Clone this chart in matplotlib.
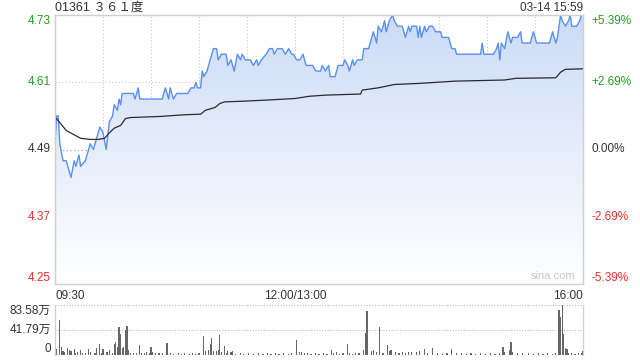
import matplotlib
matplotlib.use('Agg')
import matplotlib.pyplot as plt
import numpy as np
from matplotlib.colors import LinearSegmentedColormap

plt.rcParams['font.family'] = ['Liberation Sans', 'Noto Sans CJK SC', 'DejaVu Sans']

# --- data (minute index 0 = 09:30, 150 = 12:00/13:00, 330 = 16:00) ---
title = '01361 ３６１度'
stamp = '03-14 15:59'
prev_close = 4.49

price_t = [0, 1, 2, 3, 5, 7, 10, 12, 13, 15, 16, 19, 20, 22, 24, 26, 28, 30, 32, 34,
           36, 37, 39, 40, 41, 42, 49, 50, 52, 53, 67, 69, 71, 72, 74, 76, 83, 85, 87, 88,
           89, 91, 92, 93, 95, 97, 99, 101, 102, 104, 107, 108, 110, 112, 114, 116, 117, 119, 122, 124,
           126, 127, 129, 132, 134, 136, 137, 139, 142, 144, 146, 148, 149, 151, 153, 155, 157, 159, 161, 163,
           166, 167, 169, 171, 172, 175, 177, 180, 181, 183, 184, 186, 187, 189, 192, 193, 196, 197, 199, 201,
           202, 204, 206, 207, 209, 211, 212, 214, 217, 218, 219, 221, 222, 223, 226, 227, 228, 229, 231, 232,
           234, 236, 238, 241, 242, 246, 248, 250, 251, 266, 267, 268, 274, 276, 277, 278, 279, 281, 283, 285,
           286, 289, 291, 292, 297, 299, 301, 309, 311, 313, 314, 316, 317, 319, 321, 322, 323, 326, 328, 329,
           330]
price_v = [4.50, 4.55, 4.55, 4.50, 4.47, 4.47, 4.44, 4.47, 4.46, 4.48, 4.46, 4.47, 4.48, 4.50, 4.49, 4.51, 4.53, 4.52, 4.49, 4.54,
           4.55, 4.57, 4.56, 4.58, 4.57, 4.59, 4.59, 4.58, 4.60, 4.58, 4.58, 4.60, 4.58, 4.60, 4.58, 4.59, 4.59, 4.60, 4.60, 4.61,
           4.60, 4.60, 4.63, 4.62, 4.63, 4.65, 4.67, 4.67, 4.65, 4.66, 4.66, 4.64, 4.65, 4.63, 4.66, 4.65, 4.66, 4.65, 4.65, 4.64,
           4.65, 4.64, 4.65, 4.66, 4.67, 4.67, 4.66, 4.67, 4.67, 4.66, 4.67, 4.66, 4.66, 4.65, 4.65, 4.66, 4.64, 4.64, 4.64, 4.63,
           4.63, 4.64, 4.63, 4.64, 4.62, 4.62, 4.64, 4.64, 4.65, 4.64, 4.63, 4.65, 4.64, 4.65, 4.65, 4.67, 4.67, 4.68, 4.70, 4.68,
           4.71, 4.70, 4.72, 4.70, 4.72, 4.73, 4.72, 4.71, 4.71, 4.70, 4.69, 4.71, 4.70, 4.71, 4.71, 4.69, 4.71, 4.69, 4.71, 4.70,
           4.71, 4.71, 4.70, 4.70, 4.69, 4.69, 4.67, 4.67, 4.66, 4.66, 4.68, 4.66, 4.66, 4.67, 4.68, 4.65, 4.68, 4.67, 4.70, 4.68,
           4.69, 4.69, 4.70, 4.68, 4.68, 4.70, 4.68, 4.68, 4.70, 4.68, 4.69, 4.73, 4.72, 4.71, 4.72, 4.73, 4.71, 4.71, 4.72, 4.73,
           4.73]

avg_t = [1, 7, 16, 22, 27, 31, 34, 37, 41, 44, 47, 66, 81, 91, 94, 100, 103, 106, 116, 131,
         150, 159, 169, 191, 192, 202, 212, 228, 250, 281, 288, 313, 316, 319, 330]
avg_v = [4.545, 4.524, 4.510, 4.508, 4.508, 4.510, 4.520, 4.528, 4.533, 4.545, 4.547, 4.549, 4.552, 4.553, 4.560, 4.565, 4.572, 4.575, 4.576, 4.578,
         4.581, 4.585, 4.587, 4.589, 4.596, 4.600, 4.606, 4.608, 4.612, 4.614, 4.617, 4.618, 4.628, 4.633, 4.634]

# volume in 万 shares
vol_t = [0, 1, 3, 4, 5, 6, 8, 9, 10, 12, 13, 14, 16, 17, 19, 21, 22, 25, 26, 28,
         29, 30, 32, 33, 34, 36, 37, 38, 39, 40, 41, 42, 43, 44, 45, 46, 47, 49, 51, 53,
         54, 56, 57, 59, 60, 61, 63, 65, 67, 70, 72, 74, 77, 79, 81, 84, 86, 88, 90, 93,
         94, 96, 97, 98, 99, 101, 102, 103, 104, 106, 107, 108, 110, 111, 113, 116, 118, 121, 124, 127,
         130, 133, 135, 138, 140, 143, 146, 148, 151, 153, 154, 156, 158, 160, 163, 165, 168, 170, 173, 174,
         176, 178, 180, 183, 184, 186, 188, 190, 193, 194, 195, 198, 199, 201, 203, 205, 208, 209, 210, 213,
         215, 217, 219, 221, 223, 226, 228, 231, 233, 236, 239, 242, 245, 248, 251, 254, 257, 260, 263, 266,
         269, 272, 275, 278, 280, 281, 284, 285, 286, 289, 292, 296, 299, 302, 305, 308, 311, 313, 315, 316,
         317, 318, 319, 320, 321, 323, 325, 327, 329, 330]
vol_v = [22, 10, 58, 14, 7, 5, 12, 8, 6, 10, 4, 5, 8, 3, 3, 10, 5, 4, 11, 19,
         3, 10, 5, 5, 8, 3, 18, 22, 14, 47, 35, 11, 14, 42, 48, 9, 3, 3, 3, 17,
         4, 3, 5, 3, 13, 5, 4, 4, 3, 20, 3, 2, 3, 2, 3, 2, 3, 2, 3, 31,
         7, 8, 18, 29, 7, 6, 8, 33, 5, 15, 4, 6, 5, 6, 2, 3, 2, 3, 2, 3,
         2, 3, 2, 3, 2, 3, 2, 3, 25, 5, 5, 4, 3, 2, 3, 2, 3, 2, 8, 4,
         5, 2, 3, 18, 3, 2, 3, 3, 8, 37, 73, 7, 8, 5, 47, 3, 17, 6, 8, 5,
         4, 5, 3, 5, 5, 5, 6, 10, 3, 12, 3, 2, 3, 10, 4, 3, 2, 3, 2, 3,
         2, 3, 2, 3, 13, 5, 8, 22, 5, 4, 3, 4, 2, 3, 2, 3, 2, 3, 75, 63,
         83.58, 35, 12, 10, 4, 3, 2, 3, 3, 7]

vol_max = 83.58
y_ticks = [4.25, 4.37, 4.49, 4.61, 4.73]
pct_labels = ['-5.39%', '-2.69%', '0.00%', '+2.69%', '+5.39%']

green = '#1ea01e'
red = '#e8302a'
dark = '#333333'
grid_c = '#c8c8c8'
frame_c = '#d0d0d0'
fs = 8.5
# vertical anchoring of tick labels: bottom label sits above the frame, top one below it
y_va = ['bottom', 'center', 'center', 'center', 'top']


def tick_color(v):
    if v > prev_close + 1e-9:
        return green
    if v < prev_close - 1e-9:
        return red
    return dark


fig = plt.figure(figsize=(6.4, 3.6), dpi=100)
ax = fig.add_axes([55 / 640, 1 - 284 / 360, 528 / 640, 269 / 360])
axv = fig.add_axes([55 / 640, 1 - 355 / 360, 528 / 640, 50 / 360])

# --- price panel ---
ax.set_xlim(0, 330)
ax.set_ylim(4.25, 4.73)

# gradient fill under the price line
cmap = LinearSegmentedColormap.from_list('fill', ['#ffffff', '#ccdcf7'])
grad = np.linspace(0, 1, 256).reshape(-1, 1)
poly = ax.fill_between(price_t, price_v, 4.25, color='none', lw=0)
img = ax.imshow(grad, cmap=cmap, aspect='auto', origin='lower',
                extent=[0, 330, 4.25, 4.73], zorder=1)
img.set_clip_path(poly.get_paths()[0], transform=ax.transData)

for t in range(30, 330, 30):
    ax.axvline(t, color=grid_c, ls=(0, (1, 2)), lw=0.8, zorder=0.5)
for v in [4.37, 4.61]:
    ax.axhline(v, color=grid_c, ls=(0, (1, 2)), lw=0.8, zorder=0.5)
ax.axhline(prev_close, color='#aaaaaa', ls=(0, (1, 2)), lw=0.9, zorder=0.5)

ax.plot(price_t, price_v, color='#5b8ff0', lw=1.0, zorder=3)
ax.plot(avg_t, avg_v, color='#2b2b2b', lw=0.9, zorder=3)

ax.set_yticks(y_ticks)
ax.set_yticklabels([f'{v:.2f}' for v in y_ticks], fontsize=fs)
for lab, v, va in zip(ax.get_yticklabels(), y_ticks, y_va):
    lab.set_color(tick_color(v))
    lab.set_va(va)
ax.tick_params(axis='y', length=0, pad=3)

axr = ax.twinx()
axr.set_ylim(4.25, 4.73)
axr.set_yticks(y_ticks)
axr.set_yticklabels(pct_labels, fontsize=fs)
for lab, v, va in zip(axr.get_yticklabels(), y_ticks, y_va):
    lab.set_color(tick_color(v))
    lab.set_va(va)
axr.tick_params(axis='y', length=0, pad=6)

ax.set_xticks([0, 150, 330])
ax.set_xticklabels(['09:30', '12:00/13:00', '16:00'], fontsize=fs, color=dark)
xl = ax.get_xticklabels()
xl[0].set_ha('left')
xl[2].set_ha('right')
ax.tick_params(axis='x', length=0, pad=4)

for a in (ax, axr):
    for s in a.spines.values():
        s.set_color(frame_c)
        s.set_linewidth(0.9)

fig.text(55 / 640, 1 - 8 / 360, title, fontsize=9, color=dark,
         ha='left', va='center', family=['Liberation Sans', 'Noto Sans CJK SC'])
fig.text(583 / 640, 1 - 8 / 360, stamp, fontsize=fs, color=dark,
         ha='right', va='center')
ax.text(0.985, 0.01, 'sina.com', transform=ax.transAxes, fontsize=8,
        color='#c8c8c8', ha='right', va='bottom', zorder=4)

# --- volume panel ---
axv.set_xlim(0, 330)
axv.set_ylim(0, vol_max)
axv.bar(vol_t, vol_v, width=0.75, color='#666666', lw=0)
axv.set_yticks([0, vol_max / 2, vol_max])
axv.set_yticklabels(['0', f'{vol_max / 2:.2f}万', f'{vol_max:.2f}万'], fontsize=fs, color=dark)
for lab, va in zip(axv.get_yticklabels(), ['bottom', 'center', 'top']):
    lab.set_va(va)
axv.tick_params(axis='y', length=0, pad=3)
axv.set_xticks([])
for v in [vol_max / 2, vol_max]:
    axv.axhline(v, color='#bbbbbb', ls=(0, (1, 1.5)), lw=0.8, zorder=0)
axv.spines['top'].set_visible(False)
axv.spines['bottom'].set_visible(False)
for s in ('left', 'right'):
    axv.spines[s].set_color(frame_c)
    axv.spines[s].set_linewidth(0.9)

fig.savefig('out.png', dpi=100)
